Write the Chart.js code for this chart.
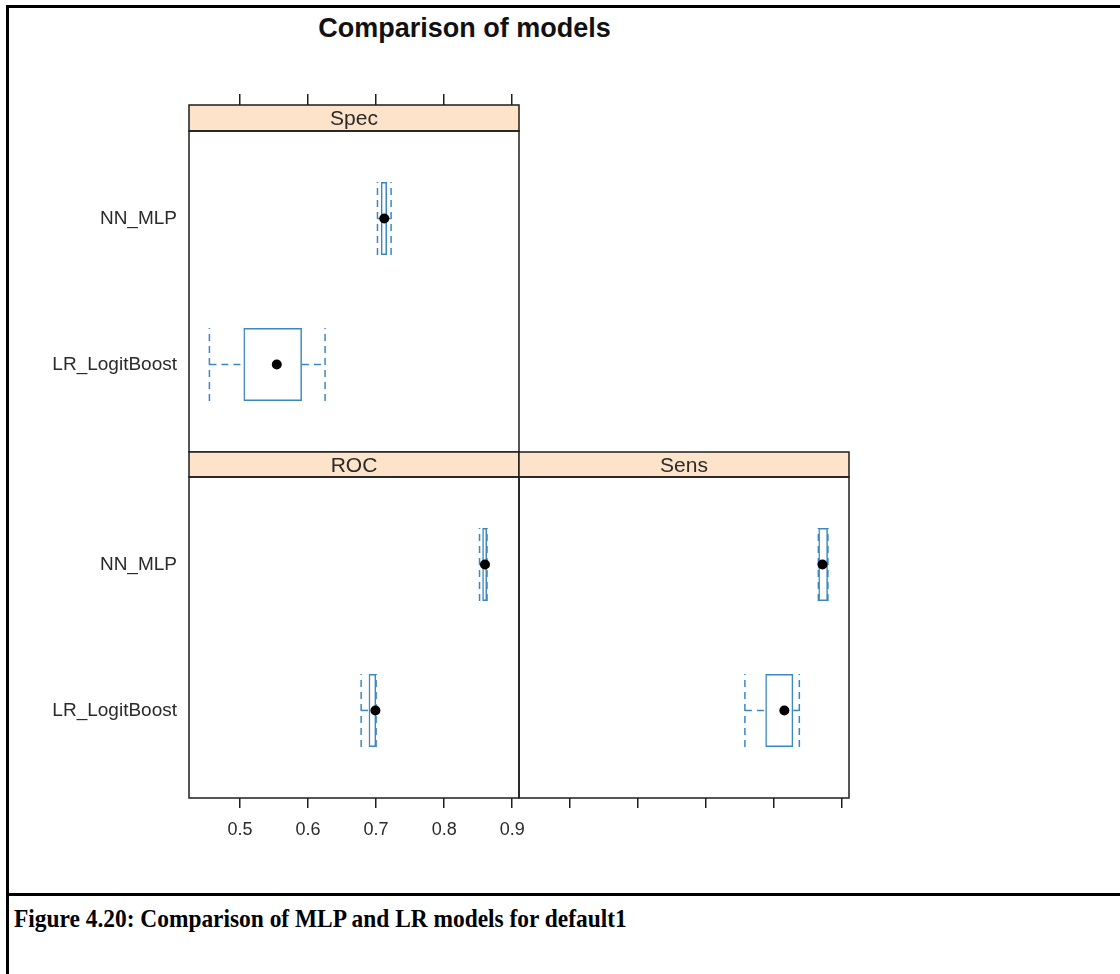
<!DOCTYPE html>
<html>
<head>
<meta charset="utf-8">
<title>Comparison of models</title>
<script src="https://cdn.jsdelivr.net/npm/chart.js@4.4.1/dist/chart.umd.min.js"></script>
<style>
  html, body { margin: 0; padding: 0; background: #fff; }
  #page { position: relative; width: 1120px; height: 974px; overflow: hidden; }
  #frame { position: absolute; left: 6px; top: 5px; width: 1200px; height: 1000px; border-top: 3px solid #000; border-left: 3px solid #000; }
  #rule { position: absolute; left: 6px; top: 893px; width: 1200px; height: 3px; background: #000; }
  #title { position: absolute; left: 0; top: 15px; width: 929px; text-align: center; font: bold 27px "Liberation Sans", Arial, sans-serif; line-height: 1; color: #111; }
  #caption { position: absolute; left: 14px; top: 906px; font: bold 26px "Liberation Serif", "Times New Roman", serif; line-height: 1; white-space: nowrap; transform: scaleX(0.9); transform-origin: left top; color: #000; }
  canvas { position: absolute; }
</style>
</head>
<body>
<div id="page">
  <div id="frame"></div>
  <div id="rule"></div>
  <div id="title">Comparison of models</div>
  <canvas id="specChart" width="530" height="460" style="left:0;top:0"></canvas>
  <canvas id="rocChart" width="530" height="420" style="left:0;top:440px"></canvas>
  <canvas id="sensChart" width="380" height="420" style="left:500px;top:440px"></canvas>
  <div id="caption">Figure 4.20: Comparison of MLP and LR models for default1</div>
</div>
<script>
// rows from bottom to top (y = 1, 2)
const MODELS = ['LR_LogitBoost', 'NN_MLP'];
const X_TICKS = [0.5, 0.6, 0.7, 0.8, 0.9];
const X_MIN = 0.425;
const X_MAX = 0.91;

// [lower whisker, q1, median, q3, upper whisker]
const specLR = [0.455, 0.505, 0.554, 0.591, 0.625];
const specNN = [0.702, 0.707, 0.712, 0.716, 0.722];
const rocLR  = [0.678, 0.689, 0.699, 0.700, 0.700];
const rocNN  = [0.852, 0.856, 0.860, 0.863, 0.863];
const sensLR = [0.757, 0.787, 0.815, 0.828, 0.837];
const sensNN = [0.865, 0.865, 0.871, 0.879, 0.879];

const BOX_COLOR = '#3a88c2';
const FRAME_COLOR = '#1e1e1e';
const TEXT_COLOR = '#2a2a2a';
const STRIP_FILL = '#fde3c9';
const FONT = '"Liberation Sans", Arial, sans-serif';
const BOX_HALF = 0.25;   // half the box height, in row units (barPercentage 0.5)

function segment(data) {
  return {
    type: 'scatter',
    showLine: true,
    data,
    borderColor: BOX_COLOR,
    borderWidth: 1.5,
    borderDash: [7, 5],
    pointRadius: 0,
    order: 3
  };
}

function buildDatasets(stats) {
  const boxes = {
    type: 'bar',
    indexAxis: 'y',
    order: 2,
    data: stats.map((s, i) => ({x: [s[1], s[3]], y: i + 1})),
    backgroundColor: 'rgba(0,0,0,0)',
    borderColor: BOX_COLOR,
    borderWidth: 1.5,
    borderSkipped: false,
    barPercentage: 0.5,
    categoryPercentage: 1
  };

  const whiskers = [];
  stats.forEach((s, i) => {
    const y = i + 1;
    if (s[0] < s[1]) whiskers.push(segment([{x: s[0], y}, {x: s[1], y}]));
    if (s[4] > s[3]) whiskers.push(segment([{x: s[3], y}, {x: s[4], y}]));
    [s[0], s[4]].forEach(x => {
      whiskers.push(segment([{x, y: y - BOX_HALF}, {x, y: y + BOX_HALF}]));
    });
  });

  const medians = {
    type: 'scatter',
    order: 0,
    data: stats.map((s, i) => ({x: s[2], y: i + 1})),
    pointRadius: 5,
    pointBackgroundColor: '#000',
    pointBorderColor: '#000',
    pointBorderWidth: 0
  };

  return [medians, boxes, ...whiskers];
}

// strip with the panel name, and the panel border
const panelFrame = {
  id: 'panelFrame',
  afterDraw(chart, args, opts) {
    const {ctx, chartArea: a} = chart;
    const h = opts.stripHeight;
    ctx.save();
    ctx.fillStyle = STRIP_FILL;
    ctx.fillRect(a.left, a.top - h, a.width, h);
    ctx.strokeStyle = FRAME_COLOR;
    ctx.lineWidth = 1.5;
    ctx.strokeRect(a.left, a.top - h, a.width, h);
    ctx.strokeRect(a.left, a.top, a.width, a.height);
    ctx.fillStyle = TEXT_COLOR;
    ctx.font = '21px ' + FONT;
    ctx.textAlign = 'center';
    ctx.textBaseline = 'middle';
    ctx.fillText(opts.label, (a.left + a.right) / 2, a.top - h / 2 + 1.5);
    ctx.restore();
  }
};

function makePanel(id, label, stats, o) {
  return new Chart(document.getElementById(id), {
    type: 'scatter',
    data: { datasets: buildDatasets(stats) },
    options: {
      responsive: false,
      animation: false,
      events: [],
      layout: { padding: o.padding },
      scales: {
        x: {
          type: 'linear',
          position: o.xPosition,
          min: X_MIN,
          max: X_MAX,
          afterBuildTicks: s => { s.ticks = X_TICKS.map(v => ({value: v})); },
          afterFit: s => {
            s.height = o.xHeight;
            // labels may hang past the panel edge, don't shrink the panel for them
            s.paddingLeft = 0;
            s.paddingRight = 0;
          },
          border: { display: false },
          grid: { drawOnChartArea: false, drawTicks: true, tickLength: o.tickLength, color: FRAME_COLOR, lineWidth: 1.5 },
          ticks: { display: o.xLabels, padding: 11, color: TEXT_COLOR, font: { family: FONT, size: 18 }, callback: v => v.toFixed(1) }
        },
        y: {
          type: 'linear',
          display: o.yLabels,
          min: 0.4,
          max: 2.6,
          offset: false,
          beginAtZero: false,
          afterBuildTicks: s => { s.ticks = MODELS.map((m, i) => ({value: i + 1})); },
          afterFit: s => {
            s.width = o.yWidth;
            s.paddingTop = 0;
            s.paddingBottom = 0;
          },
          border: { display: false },
          grid: { display: false, drawTicks: false, offset: false },
          ticks: { padding: 12, color: TEXT_COLOR, font: { family: FONT, size: 19 }, callback: v => MODELS[v - 1] }
        }
      },
      plugins: {
        legend: { display: false },
        tooltip: { enabled: false },
        panelFrame: { label, stripHeight: o.stripHeight }
      }
    },
    plugins: [panelFrame]
  });
}

makePanel('specChart', 'Spec', [specLR, specNN], {
  padding: {left: 0, right: 11, top: 0, bottom: 8},
  xPosition: 'top', xHeight: 131, tickLength: 37, xLabels: false,
  yLabels: true, yWidth: 189, stripHeight: 26
});

makePanel('rocChart', 'ROC', [rocLR, rocNN], {
  padding: {left: 0, right: 11, top: 37, bottom: 0},
  xPosition: 'bottom', xHeight: 62, tickLength: 10, xLabels: true,
  yLabels: true, yWidth: 189, stripHeight: 25
});

makePanel('sensChart', 'Sens', [sensLR, sensNN], {
  padding: {left: 19, right: 31, top: 37, bottom: 0},
  xPosition: 'bottom', xHeight: 62, tickLength: 10, xLabels: false,
  yLabels: false, yWidth: 0, stripHeight: 25
});
</script>
</body>
</html>
